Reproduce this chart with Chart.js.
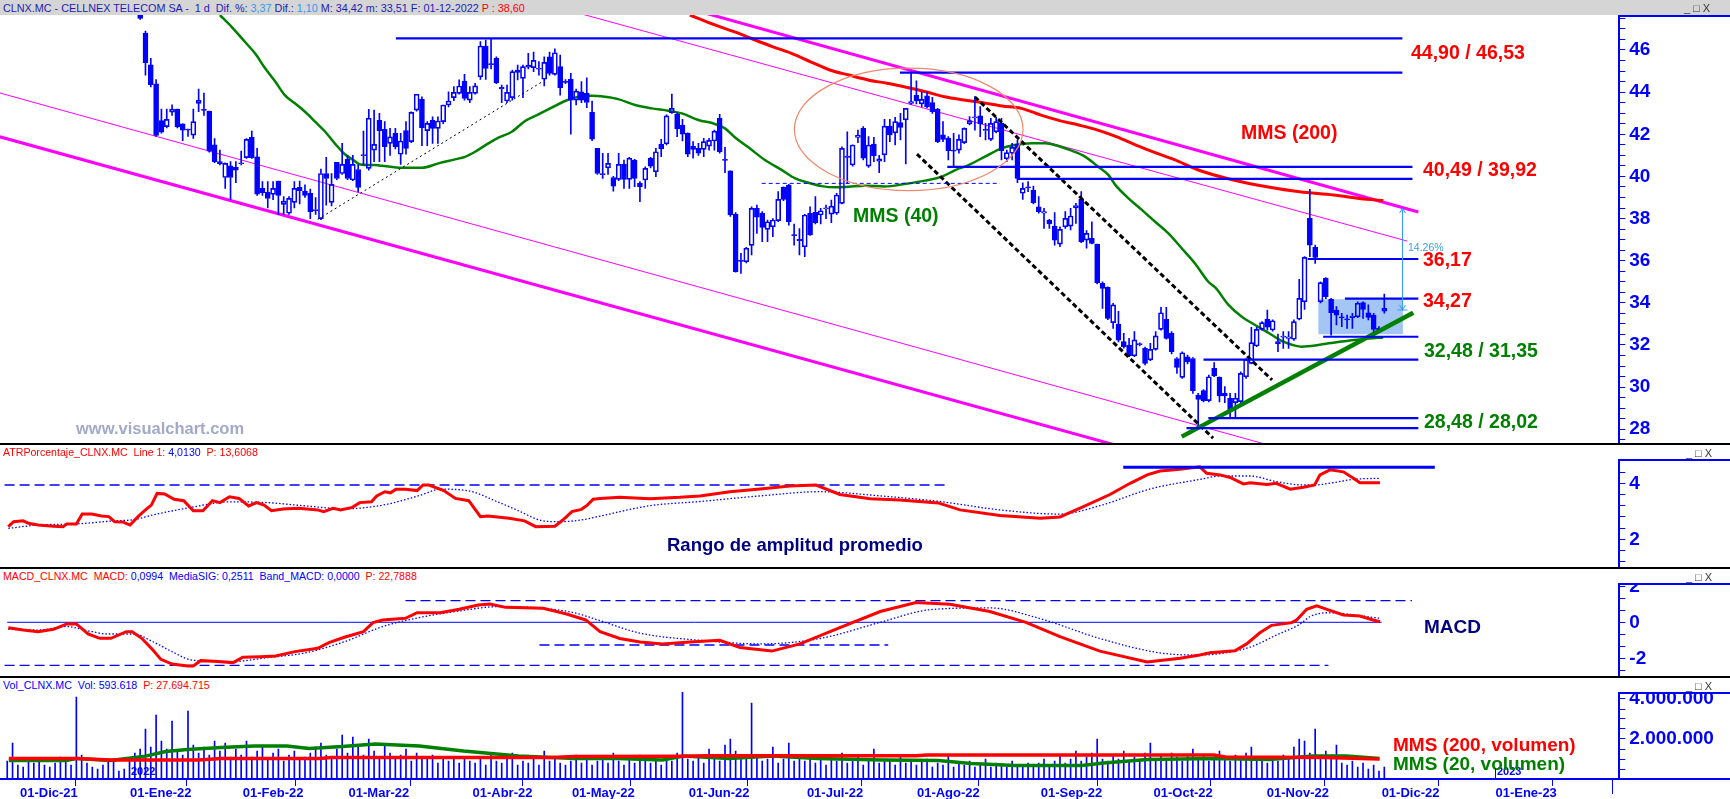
<!DOCTYPE html>
<html><head><meta charset="utf-8">
<script src="https://cdn.jsdelivr.net/npm/chart.js@4.4.1/dist/chart.umd.min.js"></script>
<style>
body{margin:0;width:1730px;height:799px;overflow:hidden;background:#fff;position:relative;font-family:'Liberation Sans',Arial,sans-serif}
canvas{position:absolute;left:0}
.lbl{position:absolute;white-space:nowrap;line-height:1;transform:translateY(-50%);font-weight:bold;z-index:5}
.hl{position:absolute;z-index:6}
.title{position:absolute;white-space:nowrap;font-size:10.6px;line-height:1;transform:translateY(-50%);z-index:7;left:3px}
.btn{position:absolute;font-size:11px;color:#333;letter-spacing:3px;z-index:7;line-height:1;transform:translateY(-50%)}
</style></head><body>

<div class="hl" style="left:0;top:0;width:1730px;height:15px;background:#d5d5d5;z-index:4"></div>
<div class="title" style="top:7.5px;color:#1c1cb4;font-size:10.8px">CLNX.MC - CELLNEX TELECOM SA -&nbsp; 1 d&nbsp; Dif. %: <span style="color:#3a96f0">3,37</span> Dif.: <span style="color:#3a96f0">1,10</span> M: 34,42 m: 33,51 F: 01-12-2022 <span style="color:#f00">P : 38,60</span></div>
<div class="btn" style="left:1684px;top:8px">_□X</div>

<canvas id="cPrice" width="1730" height="429" style="top:15px"></canvas>
<canvas id="cAtr" width="1730" height="109" style="top:459px"></canvas>
<canvas id="cMacd" width="1730" height="94" style="top:583px"></canvas>
<canvas id="cVol" width="1730" height="107" style="top:692px"></canvas>

<!-- separators and axis boxes -->
<div class="hl" style="left:0;top:443px;width:1730px;height:2px;background:#000"></div>
<div class="hl" style="left:0;top:567px;width:1730px;height:2px;background:#000"></div>
<div class="hl" style="left:0;top:676px;width:1730px;height:2px;background:#000"></div>
<div class="hl" style="left:1618px;top:15px;width:112px;height:2px;background:#00f"></div>
<div class="hl" style="left:1618px;top:459px;width:112px;height:2px;background:#00f"></div>
<div class="hl" style="left:1618px;top:583px;width:112px;height:2px;background:#00f"></div>
<div class="hl" style="left:1618px;top:692px;width:112px;height:2px;background:#00f"></div>
<div class="hl" style="left:1618px;top:778px;width:112px;height:2px;background:#00f"></div>
<div class="hl" style="left:1612px;top:779px;width:1px;height:15px;background:#00f"></div>
<div class="hl" style="left:129px;top:768px;width:1px;height:11px;background:#00f"></div>
<div class="hl" style="left:1495px;top:768px;width:1px;height:11px;background:#00f"></div>
<div class="lbl" style="left:131px;top:771px;font-size:11px;color:#00f;font-weight:bold">2022</div>
<div class="lbl" style="left:1497px;top:771px;font-size:11px;color:#00f;font-weight:bold">2023</div>

<!-- panel titles -->
<div class="title" style="top:452px;color:#f00">ATRPorcentaje_CLNX.MC&nbsp; Line 1: <span style="color:#00f">4,0130</span>&nbsp; P: 13,6068</div>
<div class="btn" style="left:1686px;top:453px">_□X</div>
<div class="title" style="top:576px;color:#f00">MACD_CLNX.MC&nbsp; MACD: <span style="color:#00f">0,0994&nbsp; MediaSIG: 0,2511&nbsp; Band_MACD: 0,0000</span>&nbsp; P: 22,7888</div>
<div class="btn" style="left:1686px;top:577px">_□X</div>
<div class="title" style="top:685px;color:#00f;font-size:10.7px">Vol_CLNX.MC&nbsp; Vol: 593.618&nbsp; <span style="color:#f00">P: 27.694.715</span></div>
<div class="btn" style="left:1686px;top:686px">_□X</div>

<!-- annotations -->
<div class="lbl" style="left:1411px;top:53px;font-size:19.5px;color:#f00">44,90 / 46,53</div>
<div class="lbl" style="left:1423px;top:170px;font-size:19.5px;color:#f00">40,49 / 39,92</div>
<div class="lbl" style="left:1423px;top:260px;font-size:19.5px;color:#f00">36,17</div>
<div class="lbl" style="left:1423px;top:301px;font-size:19.5px;color:#f00">34,27</div>
<div class="lbl" style="left:1424px;top:351px;font-size:19.5px;color:#008000">32,48 / 31,35</div>
<div class="lbl" style="left:1424px;top:422px;font-size:19.5px;color:#008000">28,48 / 28,02</div>
<div class="lbl" style="left:1241px;top:133px;font-size:19.5px;color:#f00">MMS (200)</div>
<div class="lbl" style="left:853px;top:216px;font-size:19.5px;color:#008000">MMS (40)</div>
<div class="lbl" style="left:76px;top:428px;font-size:16.5px;color:#a3aac8">www.visualchart.com</div>
<div class="lbl" style="left:1408px;top:247px;font-size:10.5px;color:#3c9cf0;font-weight:normal">14.26%</div>
<div class="lbl" style="left:667px;top:545px;font-size:18.5px;color:#000080">Rango de amplitud promedio</div>
<div class="lbl" style="left:1424px;top:626px;font-size:19px;color:#000080">MACD</div>
<div class="lbl" style="left:1393px;top:744px;font-size:19px;color:#f00">MMS (200, volumen)</div>
<div class="lbl" style="left:1393px;top:763px;font-size:19px;color:#008000">MMS (20, volumen)</div>

<script>
// ---------- DATA ----------
// trading-day index: 0 = 03-Ene-2022
const candleFirstIndex = 2;
const candleOpen = [
48.6,46.8,45.3,44.4,42.65,42.36,43.05,43.2,42.5,42.25,
41.96,43.47,43.17,43.1,41.5,40.7,39.95,40.5,40.43,40.6,
40.89,41.85,40.93,39.43,39.25,39.15,39.78,38.67,38.25,38.77,
39.48,39.3,39.2,38.4,38.0,40.14,38.77,40.67,40.14,40.82,
39.83,40.33,41.0,40.38,41.25,42.66,42.23,41.57,42.04,41.05,
42.17,41.65,43.15,43.66,42.17,42.66,42.28,42.6,43.39,43.74,
43.94,44.53,43.62,43.94,44.73,46.19,45.35,45.6,44.23,43.58,
43.74,45.05,44.65,45.18,45.16,45.1,44.61,45.68,44.84,45.21,
44.5,44.61,43.62,44.02,43.94,43.04,41.33,40.1,40.41,39.95,
39.86,40.57,39.86,40.78,39.67,39.83,40.86,40.22,41.52,41.55,
43.03,42.96,42.44,42.04,41.44,41.33,41.28,41.44,41.68,42.76,
40.8,40.26,38.21,36.0,35.95,36.73,38.48,38.25,37.49,37.61,
37.9,39.48,39.59,37.22,37.01,36.66,38.25,38.29,38.17,38.47,
38.21,38.25,38.72,40.97,40.54,41.85,42.28,40.49,41.54,40.72,
41.02,42.39,42.07,42.55,42.68,43.47,43.86,43.44,43.82,43.5,
43.18,41.97,41.81,41.23,41.25,41.6,42.49,42.8,42.87,42.2,
41.76,42.12,42.52,40.84,41.1,41.54,39.2,39.48,39.35,38.56,
38.25,37.93,37.64,36.79,37.61,37.64,38.51,38.91,36.98,37.06,
36.79,34.92,34.73,33.06,32.99,32.16,32.0,31.48,32.03,31.84,
31.29,31.79,32.74,33.22,32.55,31.36,30.46,31.44,31.36,29.62,
29.83,29.36,30.89,30.46,29.7,29.47,29.26,29.31,30.49,31.13,
31.95,32.74,33.22,32.71,32.16,32.39,32.31,32.27,33.22,34.05,
38.01,36.63,34.05,35.16,34.17,33.66,33.32,33.22,33.3,33.34,
34.01,33.53,33.42,32.79,33.6];
const candleHigh = [
49.0,46.9,45.6,44.6,43.2,43.2,43.4,43.2,42.5,42.25,
43.2,44.15,43.95,43.1,41.8,41.25,40.65,40.7,40.7,41.2,
41.8,42.15,41.33,39.75,39.75,39.75,39.78,39.04,39.04,39.75,
39.78,39.6,39.4,39.0,40.35,40.9,40.14,40.67,41.57,41.0,
41.0,40.55,42.15,43.18,43.15,43.0,42.6,42.28,42.28,42.04,
42.6,43.07,43.9,43.78,42.6,42.83,42.83,43.39,44.02,44.26,
44.58,44.84,44.26,44.42,46.4,46.47,46.55,45.68,44.34,44.34,
45.05,45.29,45.29,45.84,45.9,45.45,45.68,45.9,46.05,45.76,
44.6,44.89,44.15,44.5,44.68,43.58,41.33,41.1,41.1,40.0,
41.1,40.78,40.9,40.81,39.75,40.46,40.9,41.33,41.76,42.92,
43.91,43.03,42.71,42.07,41.65,41.57,41.81,41.81,42.2,42.95,
41.38,40.26,38.28,36.35,36.63,38.56,38.64,38.33,37.93,38.0,
39.28,39.51,39.62,37.74,37.53,38.2,38.56,39.04,38.48,38.64,
38.88,39.2,41.41,42.12,41.5,42.2,42.36,41.89,41.86,41.0,
42.71,42.71,42.8,43.0,43.23,44.92,44.54,44.02,44.02,43.75,
43.23,42.6,41.89,42.04,41.97,42.3,42.84,43.79,43.31,42.52,
42.76,42.8,42.76,41.25,41.57,41.73,39.7,39.75,39.54,39.04,
38.48,37.96,38.28,37.61,38.33,38.48,38.72,39.28,37.43,37.85,
36.79,35.0,34.76,33.98,33.6,32.55,32.31,32.63,32.1,31.9,
32.08,32.63,33.79,33.79,32.63,31.4,31.68,31.52,31.4,29.7,
29.88,30.57,31.16,30.49,30.02,29.7,29.7,30.73,31.36,32.84,
32.84,33.11,33.66,33.19,32.52,32.63,32.63,33.19,35.11,36.2,
39.39,36.74,35.0,35.2,34.21,33.82,33.5,33.42,33.5,34.05,
34.05,33.9,33.5,32.87,34.42];
const candleLow = [
47.45,44.8,44.25,41.9,42.05,42.3,42.9,42.3,41.7,41.9,
41.8,43.07,42.9,41.15,40.65,40.55,39.43,38.9,39.7,40.55,
40.85,40.85,39.1,39.1,38.5,38.9,38.2,38.2,38.2,38.5,
38.7,39.0,38.0,38.2,37.95,38.64,38.6,39.85,40.1,39.85,
39.8,39.27,40.55,40.3,40.7,40.7,40.7,41.0,41.3,40.57,
41.05,41.6,43.1,41.46,41.46,41.57,41.57,42.5,43.3,43.6,
43.9,43.62,43.5,43.9,44.6,44.6,45.1,44.4,43.5,43.5,
43.62,44.58,43.74,45.1,44.97,44.81,44.3,44.81,44.81,43.86,
44.4,42.0,43.39,43.5,43.26,41.7,40.1,39.9,40.1,39.3,
39.8,39.43,39.43,39.51,38.8,39.43,40.4,39.99,40.94,41.5,
42.99,41.89,41.68,40.94,40.86,41.0,40.94,41.25,41.25,41.1,
40.18,38.1,35.45,35.4,35.9,36.27,37.3,36.9,36.9,37.14,
37.85,38.85,37.69,36.74,36.27,36.19,37.2,37.74,37.74,38.0,
37.8,38.2,38.7,39.67,40.49,41.6,40.78,40.43,40.7,40.18,
40.7,41.65,41.49,41.73,40.59,43.42,43.44,43.31,43.25,42.99,
41.6,41.65,40.78,40.46,41.1,41.55,42.44,42.2,41.89,41.73,
41.7,42.07,40.78,40.7,40.78,39.7,38.91,39.28,38.7,38.25,
37.53,37.53,36.74,36.66,37.53,37.46,37.77,36.85,36.59,36.8,
34.9,33.74,33.2,32.79,32.15,31.85,31.45,31.45,31.95,31.05,
31.25,31.75,32.7,32.27,31.57,30.65,30.41,31.1,29.7,28.09,
29.3,29.3,30.5,29.3,29.26,28.56,28.56,29.26,30.41,31.1,
31.92,32.7,32.7,32.66,31.68,31.84,31.84,32.22,33.19,33.69,
36.19,35.87,34.0,34.2,32.47,32.95,32.87,32.79,32.79,33.3,
33.26,33.19,32.63,32.6,33.51];
const candleClose = [
47.5,45.4,44.35,41.95,42.1,42.71,43.2,42.35,42.2,42.2,
42.6,43.61,43.15,41.2,40.7,40.6,40.62,39.95,40.3,40.65,
41.76,40.89,39.16,39.23,38.95,39.43,39.1,38.83,38.96,39.43,
39.32,39.1,38.33,38.41,40.14,39.9,39.62,39.9,40.57,39.9,
40.57,39.48,41.02,42.76,41.52,42.17,41.41,41.88,41.41,41.68,
41.33,43.04,43.9,42.31,42.52,42.28,42.63,43.39,43.58,43.99,
44.29,43.7,43.99,44.3,46.19,45.13,45.3,44.45,44.15,43.99,
44.97,44.94,45.21,45.29,45.51,45.12,45.41,44.89,45.87,44.21,
44.48,43.62,44.05,43.62,43.51,41.77,40.14,40.12,40.62,39.54,
40.57,39.86,40.86,39.91,39.51,40.38,40.49,41.17,41.3,42.87,
43.23,42.25,42.01,41.06,41.28,41.1,41.65,41.71,42.15,41.17,
40.78,38.17,35.48,35.99,36.59,38.48,38.06,37.58,37.85,37.93,
38.91,38.91,37.85,37.2,36.95,38.17,37.22,37.8,38.37,38.49,
38.59,39.12,41.33,40.9,41.49,41.95,40.86,41.49,40.97,40.83,
42.39,41.97,42.6,42.33,43.23,43.55,43.6,43.66,43.31,43.07,
41.65,41.76,41.22,41.22,41.76,42.28,42.65,42.81,42.49,42.21,
42.52,42.6,41.22,41.13,41.38,39.91,39.43,39.47,38.75,38.33,
38.33,37.74,36.98,37.49,38.01,38.12,38.62,36.9,37.3,36.82,
34.96,34.69,33.26,33.9,32.23,31.92,31.48,32.24,32.05,31.13,
31.79,32.43,33.53,32.31,31.68,30.94,31.63,31.21,29.83,29.42,
29.36,30.49,30.53,29.58,29.58,28.88,29.47,30.65,31.32,32.11,
32.74,33.06,32.84,33.15,32.05,32.4,32.39,33.11,34.21,36.16,
36.74,36.16,34.96,34.29,33.53,33.42,33.3,33.2,33.37,33.98,
33.69,33.31,32.74,32.68,33.74];

// volume in millions, one per trading day from index -23 (01-Dic-21)
const volFirstIndex = -23;
const volume = [
0.9,1.8,0.7,0.6,0.9,0.8,1.0,0.7,0.6,0.8,1.1,0.9,0.7,4.1,1.2,0.8,0.6,0.5,0.7,0.9,1.0,0.4,0.5,
1.0,1.3,1.5,2.5,1.6,3.2,1.9,1.5,2.9,1.4,1.2,3.4,1.7,1.3,1.6,1.2,1.9,1.4,1.8,1.1,1.5,
1.2,1.9,1.1,1.4,1.7,1.0,1.3,1.5,0.9,1.2,1.4,1.0,1.1,1.3,1.6,1.8,1.2,1.0,1.5,2.2,
1.3,2.1,1.6,1.2,2.0,1.4,1.1,1.7,1.3,1.0,1.2,1.5,0.9,1.3,1.1,1.0,1.2,0.8,1.0,0.9,1.1,0.8,1.0,
0.9,0.8,1.1,0.7,1.2,0.9,0.8,1.0,1.3,0.7,0.9,0.8,1.0,0.7,1.4,0.9,1.0,0.8,0.7,
0.9,1.2,0.8,1.0,0.7,0.9,1.1,0.8,1.3,0.9,0.7,1.0,0.8,1.2,0.9,0.8,1.0,0.7,1.1,0.9,1.3,4.4,
1.0,0.9,1.2,0.8,1.5,1.1,0.9,1.7,2.0,1.4,1.0,1.2,3.8,1.1,0.9,1.0,1.6,0.8,1.0,1.8,0.9,1.1,
0.9,1.0,0.8,1.2,0.7,1.0,0.9,1.3,0.8,1.0,1.1,0.7,0.9,1.5,0.8,1.0,0.9,0.7,1.2,0.8,0.9,
0.7,0.9,1.0,0.6,0.8,0.7,1.2,0.6,0.8,0.7,0.9,0.6,0.7,1.0,0.6,0.8,0.7,0.6,0.9,0.7,0.6,0.8,0.7,
0.8,1.0,0.7,0.9,1.2,0.8,1.0,1.4,0.9,1.1,1.3,2.0,1.0,0.9,1.2,1.0,1.4,0.9,1.1,1.0,1.3,1.8,
1.0,1.2,0.9,1.3,1.1,0.9,1.2,1.5,1.0,1.2,0.9,1.1,1.4,1.0,0.9,1.2,1.0,1.3,1.6,1.0,1.1,
0.8,1.0,0.9,1.2,1.0,1.6,2.0,1.9,1.3,2.5,1.2,1.4,1.0,1.7,0.8,0.7,0.9,0.6,0.8,0.5,0.7,0.4,0.6];

// moving averages (trading-day index, value)
const mms40X = [17.0,19.2,21.7,23.6,25.5,27.4,29.2,31.1,33.0,34.9,36.8,38.6,40.5,42.1,43.4,46.2,47.4,51.2,55.0,58.1,61.2,63.1,65.0,67.5,69.4,71.9,74.4,76.9,79.4,81.9,84.4,86.9,89.4,91.9,95.1,98.2,101.3,103.9,107.0,110.1,112.0,113.9,116.4,119.5,122.7,125.2,127.7,130.2,132.7,135.2,138.3,142.1,145.8,149.6,152.8,155.3,157.8,160.9,164.0,166.5,169.7,172.2,174.7,177.2,179.7,182.2,184.1,185.4,187.9,190.4,192.9,195.4,197.9,200.4,202.9,204.2,206.7,209.2,211.7,214.2,216.7,219.2,220.5,223.0,225.5,229.2,233.0,235.8];
const mms40Y = [47.66,47.1,46.39,45.84,45.13,44.5,43.86,43.47,43.07,42.6,42.12,41.57,41.05,40.78,40.57,40.54,40.51,40.41,40.41,40.62,40.81,40.93,41.17,41.57,41.84,42.12,42.63,42.94,43.26,43.58,43.78,43.83,43.78,43.67,43.39,43.23,43.12,42.99,42.68,42.49,42.28,41.85,41.38,40.78,40.3,39.91,39.7,39.54,39.48,39.51,39.56,39.52,39.64,39.8,39.99,40.3,40.54,40.94,41.33,41.49,41.57,41.57,41.44,41.22,40.94,40.46,40.07,39.6,38.96,38.41,37.85,37.3,36.59,35.87,35.0,34.73,33.9,33.34,32.95,32.58,32.2,31.97,31.92,31.97,32.08,32.2,32.31,32.36];
const mms200X = [105.4,110.1,113.7,117.3,120.9,124.5,128.1,131.7,135.3,138.9,142.5,146.1,149.7,153.3,156.9,160.5,164.1,167.7,171.3,174.9,178.5,182.1,185.6,189.3,192.9,196.4,201.3,207.6,213.9,220.1,226.4,232.7,235.8];
const mms200Y = [47.66,47.19,46.87,46.51,46.16,45.84,45.44,45.05,44.81,44.58,44.42,44.23,44.02,43.78,43.63,43.5,43.34,43.23,42.92,42.65,42.44,42.2,41.89,41.49,41.13,40.81,40.28,39.83,39.51,39.27,39.12,38.91,38.86];

// drawn trend lines: [index, price] endpoints
const channelLowerThick = [[-24.4,41.88],[190,26.93]];
const channelLowerThin  = [[-24.4,43.96],[214.5,27.23]];
const channelUpperThick = [[107.3,47.82],[242.4,38.31]];
const channelUpperThin  = [[80,48.06],[240.3,36.93]];
const dashedLower = [[148.1,41.06],[203.8,27.58]];
const dashedUpper = [[159.0,43.77],[214.9,30.34]];
const dottedRise  = [[35.4,37.96],[77.85,44.53]];
const greenSupport = [[197.9,27.65],[241.45,33.53]];
// horizontal levels: [price, fromIndex, toIndex]
const levelLines = [[46.55,50.1,239.4],[44.93,144.9,239.4],[40.45,153.8,241.3],[39.88,166.9,241.3],[36.08,221.6,242.4],[34.2,228.6,242.4],[32.39,224.5,242.4],[31.3,202.0,242.4],[28.53,202.9,242.4],[28.05,198.8,242.4]];
const dashedLevel = [39.67,118.9,163.7];
const boxRange = [223.6,239.5,32.51,34.17]; // index0,index1,priceLow,priceHigh
const ellipseShape = [146.55,42.23,21.5,2.905]; // centre index, centre price, radius index, radius price
const arrowSpan = [239.4,38.49,33.66];

// ATR panel
const atrX = [-22.8,-21.8,-20.0,-19.0,-17.2,-14.3,-12.5,-11.8,-10.0,-8.9,-7.1,-5.3,-3.9,-2.8,-1.3,0.1,1.6,3.0,4.1,5.2,6.6,8.4,10.2,12.0,13.8,15.6,17.0,18.8,20.6,22.4,23.9,25.3,26.7,28.9,31.8,35.4,36.5,38.3,39.7,41.9,43.3,45.5,46.5,48.0,49.1,50.1,51.9,54.1,55.2,56.3,59.1,61.3,63.8,66.0,67.4,71.4,74.3,76.4,80.0,81.5,83.2,85.0,86.1,87.2,88.5,92.2,97.9,103.5,107.3,112.9,118.6,124.2,129.1,133.6,139.3,144.9,152.1,156.2,163.7,171.3,175.0,179.0,184.4,188.2,191.4,193.8,197.6,201.3,202.6,205.1,207.0,209.5,210.8,213.9,215.7,218.3,220.8,222.9,223.9,225.8,228.3,230.2,231.4,235.2];
const atrY = [2.45,2.63,2.66,2.57,2.51,2.47,2.45,2.55,2.55,2.9,2.9,2.83,2.81,2.63,2.62,2.51,2.81,3.05,3.22,3.64,3.62,3.43,3.38,3.02,3.02,3.38,3.31,3.52,3.46,3.19,3.31,3.22,3.02,3.08,3.11,3.05,2.99,3.11,3.05,3.14,3.31,3.34,3.55,3.7,3.66,3.79,3.79,3.74,3.94,3.94,3.74,3.46,3.38,2.81,2.83,2.75,2.66,2.45,2.47,2.69,2.99,3.07,3.22,3.43,3.46,3.5,3.45,3.5,3.55,3.7,3.8,3.9,3.94,3.6,3.45,3.4,3.3,3.05,2.85,2.75,2.8,3.13,3.6,4.0,4.3,4.44,4.5,4.59,4.36,4.3,4.21,3.98,4.02,3.96,4.0,3.79,3.86,3.94,4.3,4.48,4.41,4.18,4.02,4.02];
const atrSigX = [-22.8,-17.2,-10.0,-2.8,0.8,4.4,11.6,18.8,26.0,33.2,40.4,47.6,54.8,58.4,63.5,69.2,72.8,77.8,80.7,85.0,88.5,97.9,107.3,118.6,129.9,141.2,152.4,163.7,175.0,182.5,192.0,201.3,205.1,210.8,215.7,220.7,222.9,226.3,230.1,235.2];
const atrSigY = [2.39,2.51,2.55,2.66,2.7,2.87,3.14,3.34,3.31,3.19,3.09,3.22,3.58,3.79,3.74,3.34,3.05,2.66,2.63,2.69,2.83,3.2,3.35,3.55,3.7,3.55,3.35,3.05,2.9,3.2,3.8,4.14,4.26,4.26,4.06,3.94,3.94,4.02,4.14,4.18];
const atrDashed = [3.94,-23.5,154.1];
const atrThick = [4.57,186.9,245.5];

// MACD panel
const macdX = [-22.8,-20.0,-17.2,-14.3,-11.8,-10.0,-7.8,-5.6,-3.5,-0.6,0.5,2.3,4.4,5.9,8.0,10.9,12.0,13.4,15.9,19.5,21.3,24.6,27.5,31.1,35.4,37.5,40.4,44.0,45.8,47.6,51.9,54.1,58.4,62.0,65.6,67.8,70.7,77.8,82.2,85.8,88.5,92.2,96.0,100.2,105.4,111.0,114.8,120.8,126.1,133.6,141.2,147.9,154.3,161.8,168.6,175.0,182.5,191.4,197.6,201.3,203.2,207.9,210.1,212.6,214.8,218.6,219.5,221.4,223.3,225.2,228.3,231.4,233.9,235.2];
const macdY = [-0.3,-0.43,-0.52,-0.39,-0.09,-0.09,-0.65,-0.89,-0.89,-0.52,-0.52,-0.89,-1.54,-2.06,-2.32,-2.43,-2.43,-2.13,-2.17,-2.24,-1.94,-1.91,-1.87,-1.63,-1.44,-1.13,-0.83,-0.52,-0.02,0.13,0.22,0.53,0.53,0.72,0.96,1.02,0.83,0.78,0.46,0.13,-0.52,-0.9,-1.1,-1.2,-1.1,-1.0,-1.4,-1.6,-1.2,-0.3,0.6,1.1,1.0,0.6,0.0,-0.8,-1.6,-2.2,-2.0,-1.82,-1.69,-1.58,-1.2,-0.58,-0.17,-0.02,0.13,0.72,0.91,0.72,0.41,0.35,0.13,0.03];
const macdSigX = [-22.8,-17.2,-11.8,-7.8,-4.2,0.8,4.4,8.0,11.6,18.8,26.0,33.2,40.4,47.6,54.8,62.0,69.2,77.8,83.6,88.5,96.0,107.3,118.6,129.9,141.2,150.6,161.8,171.3,182.5,193.8,201.3,207.5,211.3,215.7,220.1,222.0,225.2,229.5,235.2];
const macdSigY = [-0.39,-0.43,-0.24,-0.47,-0.65,-0.65,-1.08,-1.63,-2.09,-2.19,-1.96,-1.69,-1.08,-0.24,0.28,0.63,0.87,0.78,0.53,0.09,-0.6,-1.0,-1.2,-0.9,0.0,0.7,0.8,0.2,-0.9,-1.7,-1.82,-1.63,-1.32,-0.71,-0.11,0.31,0.53,0.44,0.22];
const macdZero = [0,-23.0,235.5];
const macdDashes = [[1.2,51.9,241.2],[-2.39,-23.5,225.5],[-1.26,77.1,142.7]];

// volume averages (millions)
const volMms200X = [-22.7,-9.8,-3.6,13.0,17.2,35.8,37.9,79.4,83.6,104.3,108.4,147.9,150.0,204.0,206.1,224.7,235.1];
const volMms200Y = [1.03,1.03,0.95,0.95,1.03,1.03,1.08,1.08,1.12,1.14,1.16,1.16,1.2,1.2,1.1,1.08,1.0];
const volMms20X = [-22.7,-11.9,-9.8,-3.6,2.6,6.8,10.9,17.2,23.4,29.6,33.8,40.0,46.2,54.5,62.8,73.2,83.6,91.9,100.2,104.3,112.7,121.0,129.3,141.7,152.1,158.3,166.6,179.1,183.2,191.5,204.0,214.4,222.7,228.9,235.1];
const volMms20Y = [0.92,0.92,1.03,0.92,1.12,1.37,1.48,1.58,1.65,1.65,1.53,1.62,1.75,1.65,1.4,1.15,1.03,1.03,0.95,1.15,1.03,1.15,1.03,0.95,0.92,0.78,0.67,0.67,0.8,0.98,1.03,0.98,1.15,1.15,1.03];

// axes
const xTickPos = [-20.6,0.1,21.3,41.2,64.5,83.2,105.2,127.4,148.1,171.4,192.6,213.9,235.5,256.9];
const xTickLabels = ['01-Dic-21','01-Ene-22','01-Feb-22','01-Mar-22','01-Abr-22','01-May-22','01-Jun-22','01-Jul-22','01-Ago-22','01-Sep-22','01-Oct-22','01-Nov-22','01-Dic-22','01-Ene-23'];
const priceLabelTicks = [28,30,32,34,36,38,40,42,44,46];
const atrLabelTicks = [2,4];
const macdLabelTicks = [-2,0,2];
const volLabelTicks = [2,4];
const volLabelText = ['2.000.000','4.000.000'];

// ---------- RENDER ----------
const G_MIN = -24.36, G_MAX = 280.2;
const BLUE = '#0000ff';
const AXIS_W = 110.7;

function range(a, b, step){ const r=[]; for(let v=a; v<=b+1e-9; v+=step) r.push(Math.round(v*1000)/1000); return r; }
function pts(xs, ys){ return xs.map((x,i)=>({x, y:ys[i]})); }
function seg(p){ return [{x:p[0][0], y:p[0][1]},{x:p[1][0], y:p[1][1]}]; }
function hseg(v){ return [{x:v[1], y:v[0]},{x:v[2], y:v[0]}]; }
function lineDs(data, color, width, order, extra){
  return Object.assign({type:'line', data, borderColor:color, borderWidth:width, pointRadius:0, fill:false, tension:0, order}, extra||{});
}

function yAxis(min, max, tickVals, labelFn){
  return {
    type:'linear', position:'right', min, max,
    afterBuildTicks: s => { s.ticks = tickVals.map(v => ({value:v})); },
    afterFit: s => { s.width = AXIS_W; s.paddingTop = 0; s.paddingBottom = 0; },
    border:{display:true, color:BLUE, width:2},
    grid:{display:true, drawOnChartArea:false, drawTicks:true, tickLength:6, color:BLUE, lineWidth:1},
    ticks:{autoSkip:false, padding:4, color:BLUE, font:{family:'Liberation Sans', size:19, weight:'bold'}, callback: v => labelFn(v)}
  };
}
function hiddenX(){ return {type:'linear', min:G_MIN, max:G_MAX, offset:false, display:false}; }
function baseOptions(scales){
  return {responsive:false, maintainAspectRatio:false, animation:false, events:[],
    layout:{padding:0}, plugins:{legend:{display:false}, tooltip:{enabled:false}}, scales};
}
function isIn(v, arr){ return arr.some(m => Math.abs(m - v) < 1e-6); }

// candles
const bodies=[], upperWicks=[], lowerWicks=[], bodyFill=[];
for(let i=0;i<candleOpen.length;i++){
  const g = candleFirstIndex + i, o = candleOpen[i], c = candleClose[i];
  let lo = Math.min(o,c), hi = Math.max(o,c);
  if(hi - lo < 0.05){ const m=(hi+lo)/2; lo=m-0.025; hi=m+0.025; }
  bodies.push({x:g, y:[lo,hi]});
  bodyFill.push(c >= o ? 'rgba(255,255,255,0)' : BLUE);
  upperWicks.push({x:g, y:[hi, Math.max(hi, candleHigh[i])]});
  lowerWicks.push({x:g, y:[Math.min(lo, candleLow[i]), lo]});
}

const priceDecor = {
  id:'priceDecor',
  beforeDatasetsDraw(chart){
    const {ctx, scales:{x,y}} = chart;
    const x0=x.getPixelForValue(boxRange[0]), x1=x.getPixelForValue(boxRange[1]);
    const y0=y.getPixelForValue(boxRange[3]), y1=y.getPixelForValue(boxRange[2]);
    ctx.save(); ctx.fillStyle='#a3c6f4'; ctx.fillRect(x0,y0,x1-x0,y1-y0); ctx.restore();
  },
  afterDatasetsDraw(chart){
    const {ctx, chartArea:a, scales:{x,y}} = chart;
    ctx.save();
    ctx.beginPath(); ctx.rect(a.left,a.top,a.right-a.left,a.bottom-a.top); ctx.clip();
    const cx=x.getPixelForValue(ellipseShape[0]), cy=y.getPixelForValue(ellipseShape[1]);
    const rx=x.getPixelForValue(ellipseShape[0]+ellipseShape[2])-cx;
    const ry=cy-y.getPixelForValue(ellipseShape[1]+ellipseShape[3]);
    ctx.strokeStyle='#f0876a'; ctx.lineWidth=1.2;
    ctx.beginPath(); ctx.ellipse(cx,cy,rx,ry,0,0,Math.PI*2); ctx.stroke();
    const ax=Math.round(x.getPixelForValue(arrowSpan[0]))+0.5, ay0=y.getPixelForValue(arrowSpan[1]), ay1=y.getPixelForValue(arrowSpan[2]);
    ctx.strokeStyle='#3399ff'; ctx.lineWidth=1;
    ctx.beginPath(); ctx.moveTo(ax,ay0); ctx.lineTo(ax,ay1);
    ctx.moveTo(ax-3,ay0+5); ctx.lineTo(ax,ay0); ctx.lineTo(ax+3,ay0+5);
    ctx.moveTo(ax-3,ay1-5); ctx.lineTo(ax,ay1); ctx.lineTo(ax+3,ay1-5);
    ctx.moveTo(ax-5,ay1); ctx.lineTo(ax+5,ay1);
    ctx.stroke();
    ctx.restore();
  }
};

const priceDatasets = [
  ...levelLines.map(l => lineDs(hseg(l), BLUE, 2.2, 1)),
  lineDs(hseg(dashedLevel), BLUE, 1, 1, {borderDash:[4,3]}),
  lineDs(seg(greenSupport), '#008000', 4.5, 1),
  lineDs(seg(dashedLower), '#000', 3, 1, {borderDash:[5,3]}),
  lineDs(seg(dashedUpper), '#000', 3, 1, {borderDash:[5,3]}),
  lineDs(seg(dottedRise), '#000', 1, 1, {borderDash:[2,3]}),
  {type:'bar', data:bodies, backgroundColor:bodyFill, borderColor:BLUE, borderWidth:1, borderSkipped:false, barThickness:5, grouped:false, order:2},
  {type:'bar', data:upperWicks, backgroundColor:BLUE, borderWidth:0, barThickness:1, grouped:false, order:3},
  {type:'bar', data:lowerWicks, backgroundColor:BLUE, borderWidth:0, barThickness:1, grouped:false, order:3},
  lineDs(pts(mms40X, mms40Y), '#008000', 2.5, 4, {cubicInterpolationMode:'monotone'}),
  lineDs(pts(mms200X, mms200Y), '#ff0000', 3, 4, {cubicInterpolationMode:'monotone'}),
  lineDs(seg(channelLowerThick), '#ff00ff', 3, 5),
  lineDs(seg(channelLowerThin), '#ff00ff', 1, 5),
  lineDs(seg(channelUpperThick), '#ff00ff', 3, 5),
  lineDs(seg(channelUpperThin), '#ff00ff', 1, 5)
];

new Chart(document.getElementById('cPrice'), {
  type:'line', data:{datasets:priceDatasets},
  options: baseOptions({x:hiddenX(), y:yAxis(27.30, 47.661, range(27.5,47.5,0.5), v => isIn(v, priceLabelTicks) ? String(v) : '')}),
  plugins:[priceDecor]
});

new Chart(document.getElementById('cAtr'), {
  type:'line', data:{datasets:[
    lineDs(hseg(atrThick), BLUE, 3, 1),
    lineDs(pts(atrX, atrY), '#ff0000', 3, 2),
    lineDs(pts(atrSigX, atrSigY), BLUE, 1.3, 3, {borderDash:[1.5,2], cubicInterpolationMode:'monotone'}),
    lineDs(hseg(atrDashed), BLUE, 1.3, 4, {borderDash:[10,5]})
  ]},
  options: baseOptions({x:hiddenX(), y:yAxis(0.975, 4.868, range(1.2,4.8,0.4), v => isIn(v, atrLabelTicks) ? String(v) : '')})
});

new Chart(document.getElementById('cMacd'), {
  type:'line', data:{datasets:[
    lineDs(pts(macdX, macdY), '#ff0000', 3, 1),
    lineDs(pts(macdSigX, macdSigY), BLUE, 1.3, 2, {borderDash:[1.5,2], cubicInterpolationMode:'monotone'}),
    lineDs(hseg(macdZero), BLUE, 1, 3),
    ...macdDashes.map(d => lineDs(hseg(d), BLUE, 1.3, 4, {borderDash:[10,5]}))
  ]},
  options: baseOptions({x:hiddenX(), y:yAxis(-3.039, 2.183, [-8/3,-2,-4/3,-2/3,0,2/3,4/3,2], v => isIn(v, macdLabelTicks) ? String(Math.round(v)) : '')})
});

const volBars = volume.map((v,i) => ({x: volFirstIndex + i, y: v}));
new Chart(document.getElementById('cVol'), {
  type:'line', data:{datasets:[
    lineDs(pts(volMms200X, volMms200Y), '#ff0000', 3.5, 1),
    lineDs(pts(volMms20X, volMms20Y), '#008000', 3.5, 1),
    {type:'bar', data:volBars, backgroundColor:BLUE, borderWidth:0, barThickness:1, grouped:false, order:3}
  ]},
  options: baseOptions({
    x:{type:'linear', min:G_MIN, max:G_MAX, offset:false, position:'bottom',
       afterBuildTicks: s => { s.ticks = xTickPos.map(v => ({value:v})); },
       afterFit: s => { s.height = 20; s.paddingLeft = 0; s.paddingRight = 0; },
       border:{display:true, color:BLUE, width:2},
       grid:{display:true, drawOnChartArea:false, drawTicks:true, tickLength:7, color:BLUE},
       ticks:{autoSkip:false, maxRotation:0, minRotation:0, align:'start', padding:0, color:BLUE,
              font:{family:'Liberation Sans', size:13, weight:'bold'}, callback:(v,i) => xTickLabels[i]}},
    y: yAxis(0, 4.35, range(0.5,4,0.5), v => { const k = volLabelTicks.findIndex(m => Math.abs(m-v)<1e-6); return k>=0 ? volLabelText[k] : ''; })
  })
});
</script>
</body></html>
